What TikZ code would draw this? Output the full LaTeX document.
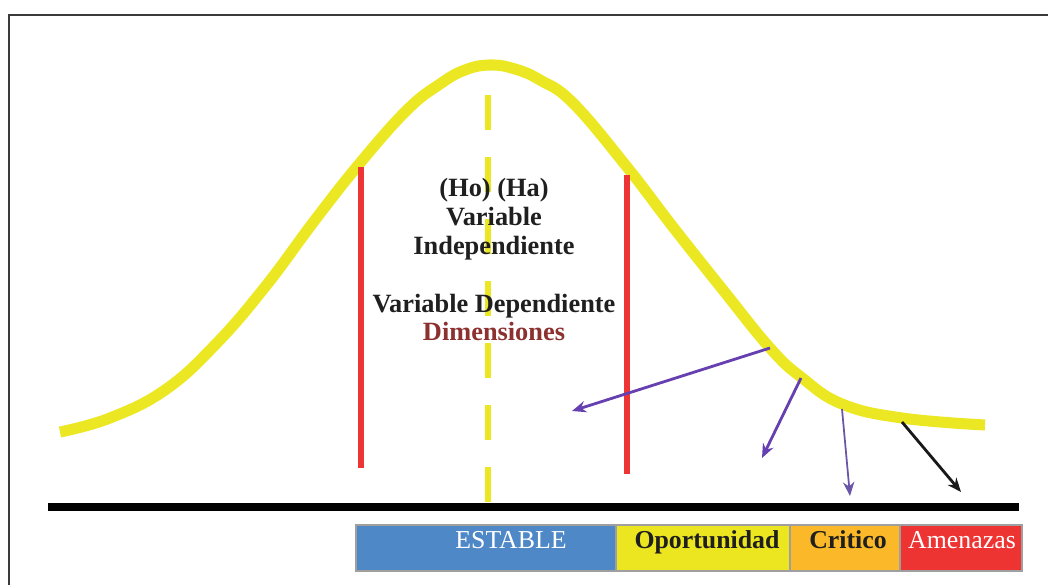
\documentclass[tikz,border=0pt]{standalone}
\usepackage{fontspec}
\setmainfont{Liberation Serif}
\usetikzlibrary{arrows.meta}
\definecolor{curveyellow}{HTML}{EBE823}
\definecolor{limitred}{HTML}{EE3535}
\definecolor{arrowpurple}{HTML}{6640B0}
\definecolor{thinpurple}{HTML}{6A55A8}
\definecolor{barblue}{HTML}{4F88C6}
\definecolor{baryellow}{HTML}{EBE620}
\definecolor{barorange}{HTML}{FBB829}
\definecolor{barred}{HTML}{EE3333}
\definecolor{dimred}{HTML}{8C3030}
\definecolor{framegray}{HTML}{3A3A3A}

\begin{document}
\begin{tikzpicture}[x=0.02cm,y=-0.02cm,
  limit/.style={draw=limitred,line width=3.1pt},
  pointer/.style={draw=arrowpurple,line width=1.6pt,-{Stealth[length=8pt,width=6.5pt]}},
  cell/.style={draw=gray!75,line width=0.8pt},
  celltext/.style={anchor=base,inner sep=0pt,font=\fontsize{14.7}{17}\selectfont},
  maintext/.style={anchor=base,inner sep=0pt,text=black!88,font=\fontsize{15}{16.5}\selectfont\bfseries}]
\useasboundingbox (0,0) rectangle (1048,585);
% frame
\draw[framegray,line width=1.2pt] (1048,15) -- (9,15) -- (9,585);
% bell curve
\draw[curveyellow,line width=6.3pt] plot[smooth,tension=0.7] coordinates {
  (60,432) (110,418) (165,390) (215,345) (265,287) (315,220) (360,163)
  (407,110) (440,84) (465,70) (490,65) (515,69) (540,80) (573,103)
  (627,167) (673,227) (723,290) (770,348) (801,377) (842,404) (902,418)
  (985,425)};
\draw[curveyellow,line width=3.4pt,dash pattern=on 19.9pt off 15.4pt] (488,95) -- (488,502);
% limits
\draw[limit] (361,167) -- (361,468);
\draw[limit] (627,175) -- (627,474);
% axis
\draw[black,line width=4.8pt] (48,507) -- (1019,507);
% labels
\node[maintext] (ho) at (494,196) {(Ho)~(Ha)};
\node[maintext] (var) at (494,225) {Variable};
\node[maintext] (indep) at (494,254) {Independiente};
\node[maintext] (dep) at (494,312) {Variable Dependiente};
\node[maintext,text=dimred] (dim) at (494,340) {Dimensiones};
% arrows
\coordinate (s1) at (770,348); \coordinate (e1) at (572,411);
\coordinate (s2) at (801,378); \coordinate (e2) at (762,458);
\coordinate (s3) at (842,409); \coordinate (e3) at (850,496);
\coordinate (s4) at (902,422); \coordinate (e4) at (961,492);
\draw[pointer] (s1) -- (e1);
\draw[pointer] (s2) -- (e2);
\draw[pointer,draw=thinpurple,line width=1pt] (s3) -- (e3);
\draw[pointer,draw=black!90] (s4) -- (e4);
% scale bar
\draw[cell,fill=barblue] (356,525) rectangle (616,571);
\draw[cell,fill=baryellow] (616,525) rectangle (790,571);
\draw[cell,fill=barorange] (790,525) rectangle (900,571);
\draw[cell,fill=barred] (900,525) rectangle (1022,571);
\node[celltext,text=white] (estable) at (511,548) {ESTABLE};
\node[celltext,text=black!88] (oport) at (707,548) {\bfseries Oportunidad};
\node[celltext,text=black!88] (critico) at (848,548) {\bfseries Critico};
\node[celltext,text=white] (amenazas) at (962,548) {Amenazas};
\end{tikzpicture}
\end{document}
